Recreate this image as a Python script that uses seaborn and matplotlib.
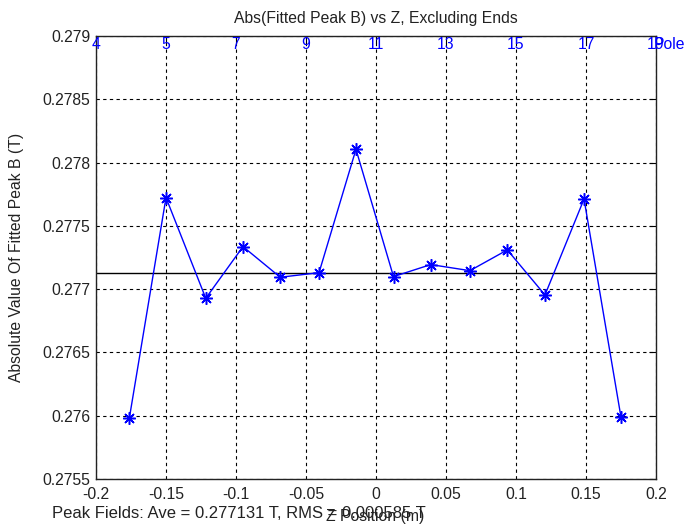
import matplotlib
matplotlib.use("Agg")
import matplotlib.pyplot as plt
import matplotlib.transforms as mtransforms
import seaborn as sns
import pandas as pd

# ---- data ----
z_pos = [-0.1762, -0.1500, -0.1216, -0.0950, -0.0684, -0.0407, -0.0143,
         0.0125, 0.0391, 0.0671, 0.0938, 0.1207, 0.1486, 0.1750]
peak_b = [0.27598, 0.277723, 0.276928, 0.277336, 0.277094, 0.277130, 0.278105,
          0.277099, 0.277194, 0.277146, 0.277310, 0.276954, 0.277712, 0.275988]
ave_b = 0.277131
rms_b = 0.000585
x_ticks = [-0.2, -0.15, -0.1, -0.05, 0, 0.05, 0.1, 0.15, 0.2]
x_ticklabels = ["-0.2", "-0.15", "-0.1", "-0.05", "0", "0.05", "0.1", "0.15", "0.2"]
y_ticks = [0.2755, 0.276, 0.2765, 0.277, 0.2775, 0.278, 0.2785, 0.279]
y_ticklabels = ["0.2755", "0.276", "0.2765", "0.277", "0.2775", "0.278", "0.2785", "0.279"]
pole_labels = ["4", "5", "7", "9", "11", "13", "15", "17", "19"]

df = pd.DataFrame({"z": z_pos, "b": peak_b})

sns.set_theme(style="white")
plt.rcParams["font.family"] = ["Liberation Sans", "DejaVu Sans"]

FS = 11.3
TXT = "#222222"

fig = plt.figure(figsize=(6.94, 5.24), dpi=100)
ax = fig.add_axes([96/694, 45/524, 560/694, 443/524])

ax.grid(True, color="black", linestyle=(0, (3, 3)), linewidth=0.8)
ax.set_axisbelow(True)

ax.axhline(ave_b, color="black", linewidth=1.0, zorder=2)
sns.lineplot(data=df, x="z", y="b", ax=ax, color=(0, 0, 1), linewidth=1.0,
             marker=(8, 2, 0), markersize=9, markeredgewidth=1.1,
             markeredgecolor=(0, 0, 1), markerfacecolor=(0, 0, 1), zorder=3)

ax.set_xlim(-0.2, 0.2)
ax.set_ylim(0.2755, 0.279)
ax.set_xticks(x_ticks)
ax.set_xticklabels(x_ticklabels)
ax.set_yticks(y_ticks)
ax.set_yticklabels(y_ticklabels)
ax.tick_params(direction="in", length=5, width=0.8, colors="black", labelsize=FS,
               top=True, right=True, pad=4, labelcolor=TXT)
ax.tick_params(axis="x", pad=6)
for s in ax.spines.values():
    s.set_color(TXT)
    s.set_linewidth(1.0)

ax.set_xlabel("")
ax.set_ylabel("Absolute Value Of Fitted Peak B (T)", fontsize=FS, color=TXT)
ax.yaxis.set_label_coords((24 - 96) / 560, 0.5)
ax.set_title("Abs(Fitted Peak B) vs Z, Excluding Ends", fontsize=FS, color=TXT, pad=9)

# top pole axis labels
trans = mtransforms.blended_transform_factory(ax.transData, ax.transAxes)
for xv, lab in zip(x_ticks, pole_labels):
    ax.text(xv, 0.997, lab, transform=trans, ha="center", va="top",
            color=(0, 0, 1), fontsize=FS, zorder=5)
ax.text(0.2 - 0.0015, 0.997, "Pole", transform=trans, ha="left", va="top",
        color=(0, 0, 1), fontsize=FS, zorder=5, clip_on=False)

# bottom texts
fig.text(375/694, 1 - 517/524, "Z Position (m)", ha="center", va="center",
         fontsize=FS, color=TXT)
fig.text(52/694, 1 - 513/524,
         f"Peak Fields: Ave = {ave_b:.6f} T, RMS = {rms_b:.6f} T",
         ha="left", va="center", fontsize=12, color=TXT)

fig.savefig("out.png", dpi=100)
